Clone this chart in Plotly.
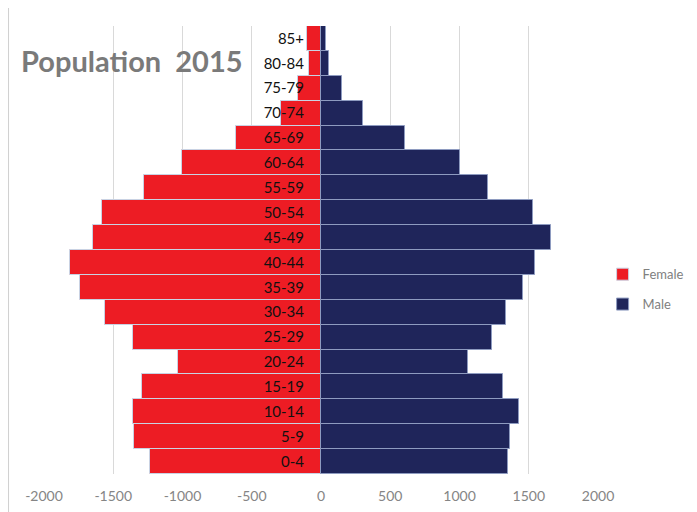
import plotly.graph_objects as go

ages = ["0-4", "5-9", "10-14", "15-19", "20-24", "25-29", "30-34", "35-39", "40-44",
        "45-49", "50-54", "55-59", "60-64", "65-69", "70-74", "75-79", "80-84", "85+"]
female = [1237, 1348, 1357, 1292, 1030, 1355, 1562, 1738, 1810,
          1648, 1581, 1280, 1006, 616, 289, 168, 84, 99]
male = [1350, 1362, 1432, 1314, 1064, 1232, 1336, 1461, 1547,
        1663, 1531, 1208, 1001, 609, 303, 154, 60, 36]
x_ticks = [-2000, -1500, -1000, -500, 0, 500, 1000, 1500, 2000]

FONT = "Lato"
fig = go.Figure()
fig.add_trace(go.Bar(
    y=ages, x=[-v for v in female], orientation="h", name="Female", legendgroup="f",
    marker=dict(color="#ED1C24", line=dict(color="#C9D2E3", width=1)),
))
fig.add_trace(go.Bar(
    y=ages, x=male, orientation="h", name="Male", legendgroup="m",
    marker=dict(color="#1F255A", line=dict(color="#8E9BC0", width=1)),
))

# page has an 8px body margin, so the figure is sized/offset accordingly
fig.update_layout(
    width=689, height=504,
    margin=dict(l=36, r=99, t=18, b=38, autoexpand=False),
    paper_bgcolor="white", plot_bgcolor="white",
    barmode="relative", bargap=0,
    font=dict(family=FONT, color="#7F7F7F"),
    xaxis=dict(
        range=[-2000, 2000], tickvals=x_ticks, ticktext=[str(v) for v in x_ticks],
        showgrid=True, gridcolor="#D9D9D9", gridwidth=1, zeroline=False,
        showline=False, ticks="", tickfont=dict(size=14, color="#858585"),
        ticklabelstandoff=12, fixedrange=True, automargin=False,
    ),
    yaxis=dict(
        range=[-0.5, 17.5], anchor="free", position=0.5, side="left",
        showgrid=False, zeroline=False, showline=False, ticks="",
        ticklabelstandoff=17, tickfont=dict(size=15, color="#111111"),
        layer="above traces", automargin=False,
    ),
    legend=dict(
        xref="container", yref="container",
        x=0.863, y=0.442, xanchor="left", yanchor="middle",
        font=dict(size=13, color="#808080"), tracegroupgap=10,
        traceorder="grouped", itemwidth=30, bgcolor="rgba(0,0,0,0)",
    ),
    showlegend=True,
)

fig.add_annotation(
    text="Population  2015", xref="paper", yref="paper",
    x=-0.0448, y=0.924, xanchor="left", yanchor="middle", showarrow=False,
    font=dict(family=FONT, size=29, color="#7A7A7A", weight="bold"),
)
fig.add_shape(type="line", xref="paper", yref="paper", x0=-0.064, x1=-0.064,
              y0=-0.09, y1=1.05, line=dict(color="#D0D0D0", width=1))

fig.write_html("out.html")
